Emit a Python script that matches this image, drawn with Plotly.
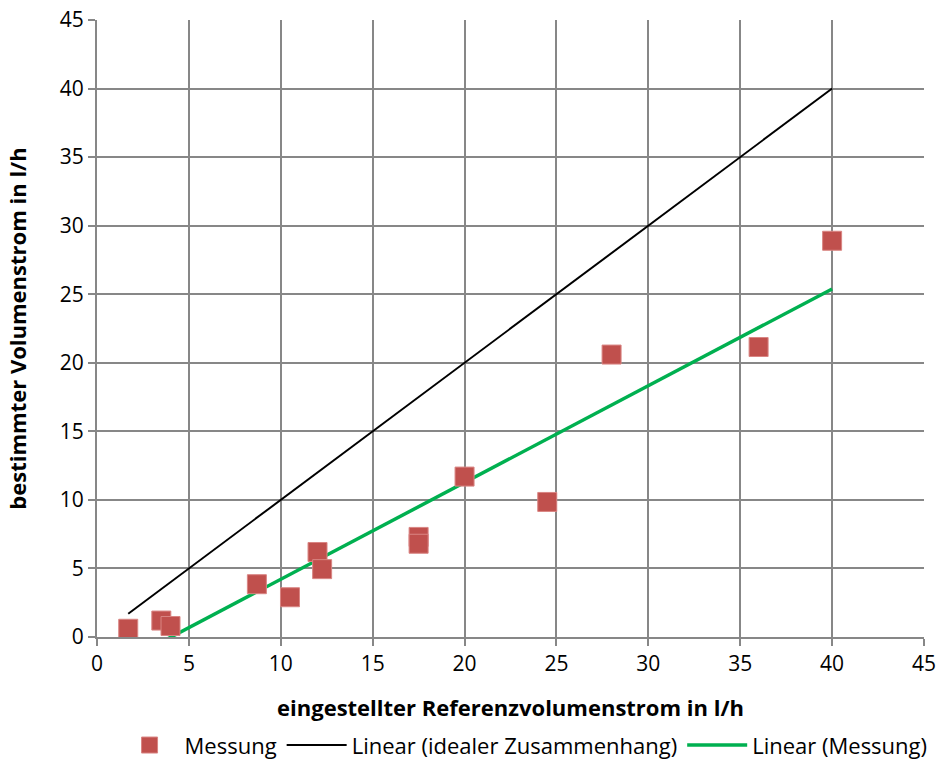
import numpy as np
import plotly.graph_objects as go

x_mess = [1.7, 3.5, 4.0, 8.7, 10.5, 12.0, 12.25, 17.5, 17.5, 20.0, 24.5, 28.0, 36.0, 40.0]
y_mess = [0.6, 1.2, 0.8, 3.85, 2.9, 6.2, 4.95, 7.3, 6.8, 11.7, 9.85, 20.6, 21.15, 28.9]
x_range = [min(x_mess), max(x_mess)]
ticks = [0, 5, 10, 15, 20, 25, 30, 35, 40, 45]

slope, intercept = np.polyfit(x_mess, y_mess, 1)
fit_y = [slope * v + intercept for v in x_range]

FONT = "Open Sans, sans-serif"

fig = go.Figure()
fig.add_trace(go.Scatter(x=x_range, y=x_range, mode="lines", name="Linear (idealer Zusammenhang)",
                         legendrank=2, line=dict(color="black", width=2)))
fig.add_trace(go.Scatter(x=x_range, y=fit_y, mode="lines", name="Linear (Messung)",
                         legendrank=3, line=dict(color="#00B050", width=3.5)))
fig.add_trace(go.Scatter(x=x_mess, y=y_mess, mode="markers", name="Messung",
                         legendrank=1,
                         marker=dict(symbol="square", size=19, color="#C0504D",
                                     line=dict(color="#D98583", width=1))))

axis_common = dict(range=[0, 45], tickvals=ticks, showgrid=True, gridcolor="#878787", gridwidth=2,
                   showline=True, linecolor="#878787", linewidth=2, ticks="outside", ticklen=7,
                   tickcolor="#878787", tickwidth=2, zeroline=False, automargin=False,
                   tickfont=dict(family=FONT, size=21, color="black"))
fig.update_xaxes(**axis_common,
                 title=dict(text="<b>eingestellter Referenzvolumenstrom in l/h</b>", standoff=24,
                            font=dict(family=FONT, size=22, color="black")))
fig.update_yaxes(**axis_common,
                 title=dict(text="<b>bestimmter Volumenstrom in l/h</b>", standoff=27,
                            font=dict(family=FONT, size=22, color="black")))

fig.update_layout(
    width=939, height=762, plot_bgcolor="white", paper_bgcolor="white",
    margin=dict(l=97, r=15, t=20, b=125, autoexpand=False),
    showlegend=True,
    legend=dict(orientation="h", x=0.122, xanchor="left", xref="container",
                y=0.022, yanchor="middle", yref="container",
                font=dict(family=FONT, size=22, color="black"),
                itemwidth=60),
)
fig.write_html("out.html", config={"displayModeBar": False},
               post_script="document.body.style.margin='0';")
